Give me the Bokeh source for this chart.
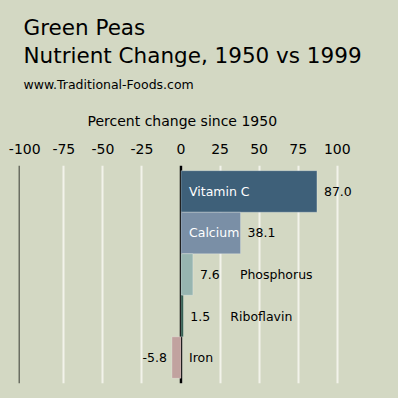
from bokeh.plotting import figure
from bokeh.models import Range1d, FactorRange, Span, Title, FixedTicker, ColumnDataSource
from bokeh.embed import file_html
from bokeh.resources import INLINE
from bokeh.core.properties import value

# ---- data ----
nutrients = ["Vitamin C", "Calcium", "Phosphorus", "Riboflavin", "Iron"]
changes = [87.0, 38.1, 7.6, 1.5, -5.8]
bar_colors = ["#3e6079", "#7a8fa6", "#97b5b0", "#2e5a4d", "#c1a29f"]
tick_values = [-100, -75, -50, -25, 0, 25, 50, 75, 100]
tick_labels = ["-100", "-75", "-50", "-25", "0", "25", "50", "75", "100"]

BG = "#d3d8c3"
FONT = "DejaVu Sans"

# ---- label placement derived from values ----
val_x, val_align, val_off, val_text = [], [], [], []
name_x, name_off, name_color = [], [], []
for v in changes:
    val_text.append("%.1f" % v)
    val_x.append(v)
    if v >= 0:
        val_align.append("left"); val_off.append(7)
    else:
        val_align.append("right"); val_off.append(-5)
    if v > 25:
        name_x.append(0); name_off.append(8); name_color.append("white")
    elif v < 0:
        name_x.append(0); name_off.append(8); name_color.append("black")
    else:
        name_x.append(v); name_off.append(47); name_color.append("black")

src = ColumnDataSource(dict(name=nutrients, value=changes, color=bar_colors,
                            val_x=val_x, val_align=val_align, val_off=val_off, val_text=val_text,
                            name_x=name_x, name_off=name_off, name_color=name_color))

p = figure(width=398, height=398, output_backend="svg", toolbar_location=None,
           x_range=Range1d(-104, 139.2),
           y_range=FactorRange(*reversed(nutrients), range_padding=0.05),
           x_axis_location="above", y_axis_location=None,
           min_border_left=18, min_border_right=0, min_border_bottom=15, min_border_top=165,
           background_fill_color=BG, border_fill_color=BG, outline_line_color=None)

# top axis: tick labels only
p.xaxis.ticker = FixedTicker(ticks=tick_values)
p.xaxis.major_label_overrides = dict(zip(tick_values, tick_labels))
p.xaxis.axis_line_color = None
p.xaxis.major_tick_line_color = None
p.xaxis.minor_tick_line_color = None
p.xaxis.major_label_text_font = FONT
p.xaxis.major_label_text_font_size = "14px"
p.xaxis.major_label_text_color = "black"
p.xaxis.major_label_standoff = 6

p.ygrid.visible = False
p.xgrid.ticker = FixedTicker(ticks=tick_values[1:])
p.xgrid.grid_line_color = "#f2f3ea"
p.xgrid.grid_line_width = 2

# dark left boundary line and black zero line (behind the bars)
p.add_layout(Span(location=p.x_range.start, dimension="height", line_color="#6b6e63",
                  line_width=3, level="underlay"))
p.add_layout(Span(location=0, dimension="height", line_color="black", line_width=2.5,
                  level="underlay"))

p.hbar(y="name", left=0, right="value", height=1.0, fill_color="color",
       line_color="white", line_alpha=0.25, line_width=1, source=src)

p.text(x="val_x", y="name", text="val_text", x_offset="val_off", text_align="val_align",
       text_baseline="middle", text_font=value(FONT), text_font_size="12.5px",
       text_color="black", source=src)
p.text(x="name_x", y="name", text="name", x_offset="name_off", text_align="left",
       text_baseline="middle", text_font=value(FONT), text_font_size="12.5px",
       text_color="name_color", source=src)

titles = [("Percent change since 1950", 69, "14px", 23, 1.0),
          ("www.Traditional-Foods.com", 5, "12.5px", 15, 1.0),
          ("Green Peas\nNutrient Change, 1950 vs 1999", 5, "21.5px", 0, 1.12)]
for txt, off, size, so, lh in titles:
    p.add_layout(Title(text=txt, align="left", offset=off, text_font=FONT, text_font_size=size,
                       text_font_style="normal", text_color="black", standoff=so,
                       text_line_height=lh), "above")

html = file_html(p, INLINE)
html = html.replace("</head>", "<style>body{background:%s;}</style></head>" % BG, 1)
open("out.html", "w").write(html)
